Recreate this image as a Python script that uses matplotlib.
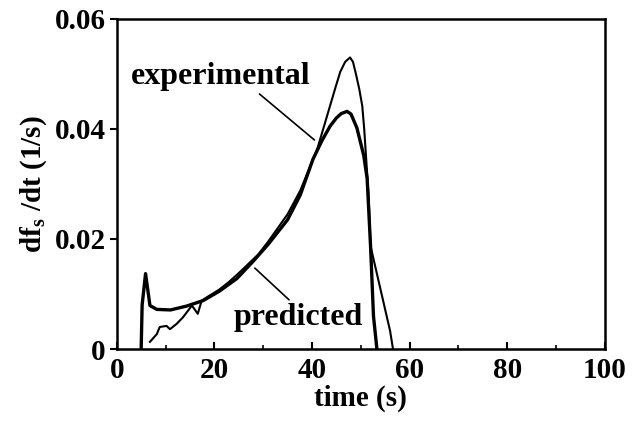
import numpy as np
import matplotlib
matplotlib.use("Agg")
import matplotlib.pyplot as plt
from matplotlib.ticker import MultipleLocator

# predicted curve (thick, smooth)
t_pred = [5.0, 5.2, 5.9, 6.8, 8.2, 11.0, 14.3, 17.7, 21.0, 24.6, 28.0, 31.0, 35.0,
          37.6, 40.2, 42.0, 43.7, 45.0, 46.0, 47.2, 48.0, 49.2, 50.6, 51.3, 52.0,
          52.6, 53.3]
v_pred = [0.0, 0.008, 0.0137, 0.0079, 0.0072, 0.0071, 0.0078, 0.0088, 0.0105, 0.0128,
          0.016, 0.019, 0.0235, 0.028, 0.0345, 0.0378, 0.0405, 0.042, 0.0428, 0.0432,
          0.0427, 0.0402, 0.0352, 0.031, 0.0187, 0.006, 0.0]

# experimental curve (thin, noisy)
t_exp = [6.8, 8.2, 8.8, 10.2, 10.9, 12.3, 13.6, 15.4, 16.6, 17.4, 19.0, 21.0, 23.0,
         25.0, 27.0, 29.0, 31.0, 33.0, 35.0, 37.6, 40.0, 41.1, 43.7, 44.8, 45.8, 46.8,
         47.8, 48.4, 49.0, 49.7, 50.3, 50.7, 51.1, 51.6, 52.0, 54.0, 56.0, 56.6]
v_exp = [0.0013, 0.0027, 0.004, 0.0042, 0.0036, 0.0046, 0.0058, 0.0079, 0.0064, 0.0088,
         0.0097, 0.0108, 0.0122, 0.0138, 0.0155, 0.0172, 0.0195, 0.022, 0.0245, 0.0288,
         0.034, 0.0364, 0.0442, 0.0475, 0.0504, 0.0522, 0.053, 0.0522, 0.050, 0.0472,
         0.0442, 0.040, 0.0346, 0.028, 0.0187, 0.011, 0.0033, 0.0]

x_ticks = [0, 20, 40, 60, 80, 100]
y_ticks = [0, 0.02, 0.04, 0.06]
y_tick_labels = ["0", "0.02", "0.04", "0.06"]

plt.rcParams['font.family'] = ['Liberation Serif', 'DejaVu Serif']
plt.rcParams['font.weight'] = 'bold'
plt.rcParams['mathtext.fontset'] = 'custom'
plt.rcParams['mathtext.rm'] = 'Liberation Serif:bold'
plt.rcParams['mathtext.default'] = 'rm'

fig = plt.figure(figsize=(6.38, 4.21), dpi=100)
ax = fig.add_axes([0.183, 0.171, 0.765, 0.784])

ax.plot(t_pred, v_pred, color='black', lw=2.4)
ax.plot(t_exp, v_exp, color='black', lw=1.5)

ax.set_xlim(0, 100)
ax.set_ylim(0, 0.06)
ax.set_xticks(x_ticks)
ax.set_xticklabels([str(x) for x in x_ticks])
ax.set_yticks(y_ticks)
ax.set_yticklabels(y_tick_labels)
ax.xaxis.set_minor_locator(MultipleLocator(10))
ax.tick_params(axis='both', which='major', labelsize=21, width=1.5, length=5)
ax.tick_params(axis='x', which='both', direction='in', pad=6)
ax.tick_params(axis='x', which='minor', length=3, width=1.2)
ax.tick_params(axis='y', direction='out', pad=3)
for lab in ax.get_xticklabels() + ax.get_yticklabels():
    lab.set_fontweight('bold')
for s in ax.spines.values():
    s.set_linewidth(1.8)

ax.set_xlabel('time (s)', fontsize=21, fontweight='bold', labelpad=0)
ax.set_ylabel(r'df$_{s}$ /dt (1/s)', fontsize=21, fontweight='bold', labelpad=4)

ax.annotate('experimental', xy=(40.5, 0.038), xytext=(2.8, 0.0495),
            fontsize=23, fontweight='bold', va='center', ha='left',
            arrowprops=dict(arrowstyle='-', color='black', lw=1.2,
                            shrinkA=0, shrinkB=0, relpos=(0.7, 0.0)))
ax.annotate('predicted', xy=(28.3, 0.0147), xytext=(24.0, 0.0058),
            fontsize=23, fontweight='bold', va='center', ha='left',
            arrowprops=dict(arrowstyle='-', color='black', lw=1.2,
                            shrinkA=0, shrinkB=0, relpos=(0.45, 1.0)))

fig.savefig('out.png', dpi=100)
